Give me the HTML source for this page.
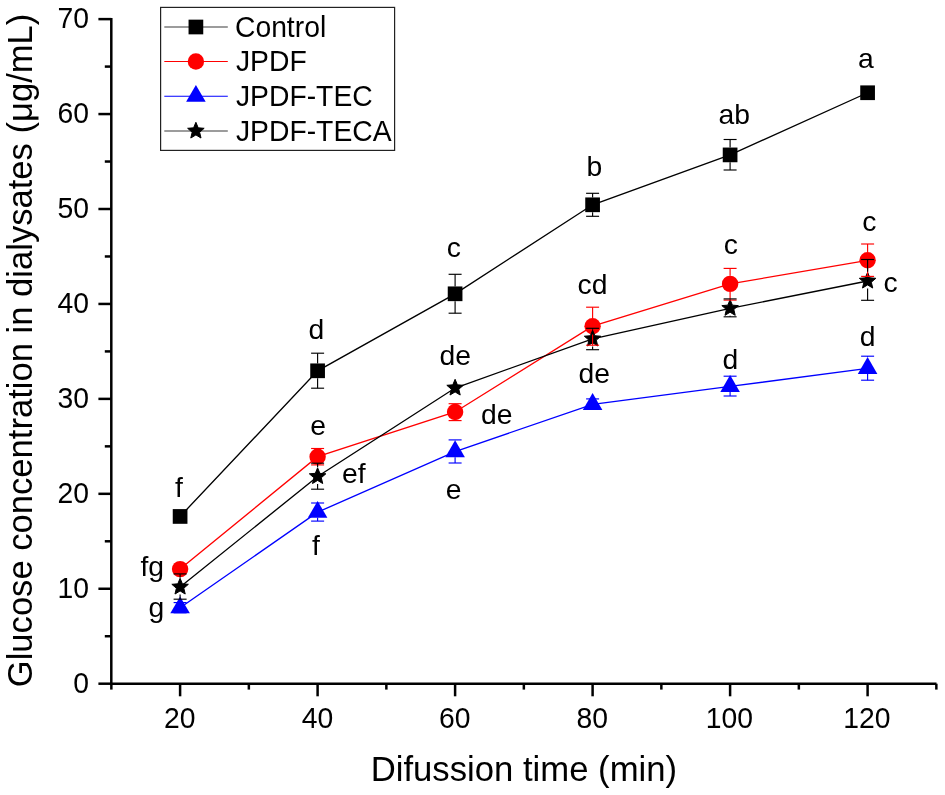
<!DOCTYPE html><html><head><meta charset="utf-8"><title>Glucose diffusion chart</title><style>html,body{margin:0;padding:0;background:#fff;overflow:hidden;}svg{display:block;will-change:transform;}text{font-family:"Liberation Sans",sans-serif;fill:#000;}</style></head><body>
<svg width="945" height="795" viewBox="0 0 945 795">
<rect width="945" height="795" fill="#fff"/>
<g stroke="#000" stroke-width="2.5" fill="none">
<line x1="111.3" y1="17.9" x2="111.3" y2="684.95"/>
<line x1="110.05" y1="683.7" x2="936.5" y2="683.7"/>
<line x1="98.4" y1="683.70" x2="111.3" y2="683.70"/>
<line x1="98.4" y1="588.76" x2="111.3" y2="588.76"/>
<line x1="98.4" y1="493.82" x2="111.3" y2="493.82"/>
<line x1="98.4" y1="398.88" x2="111.3" y2="398.88"/>
<line x1="98.4" y1="303.94" x2="111.3" y2="303.94"/>
<line x1="98.4" y1="209.00" x2="111.3" y2="209.00"/>
<line x1="98.4" y1="114.06" x2="111.3" y2="114.06"/>
<line x1="98.4" y1="19.12" x2="111.3" y2="19.12"/>
<line x1="104.8" y1="636.23" x2="111.3" y2="636.23"/>
<line x1="104.8" y1="541.29" x2="111.3" y2="541.29"/>
<line x1="104.8" y1="446.35" x2="111.3" y2="446.35"/>
<line x1="104.8" y1="351.41" x2="111.3" y2="351.41"/>
<line x1="104.8" y1="256.47" x2="111.3" y2="256.47"/>
<line x1="104.8" y1="161.53" x2="111.3" y2="161.53"/>
<line x1="104.8" y1="66.59" x2="111.3" y2="66.59"/>
<line x1="180.10" y1="683.7" x2="180.10" y2="696.3"/>
<line x1="317.60" y1="683.7" x2="317.60" y2="696.3"/>
<line x1="455.10" y1="683.7" x2="455.10" y2="696.3"/>
<line x1="592.60" y1="683.7" x2="592.60" y2="696.3"/>
<line x1="730.10" y1="683.7" x2="730.10" y2="696.3"/>
<line x1="867.60" y1="683.7" x2="867.60" y2="696.3"/>
<line x1="111.35" y1="683.7" x2="111.35" y2="689.6"/>
<line x1="248.85" y1="683.7" x2="248.85" y2="689.6"/>
<line x1="386.35" y1="683.7" x2="386.35" y2="689.6"/>
<line x1="523.85" y1="683.7" x2="523.85" y2="689.6"/>
<line x1="661.35" y1="683.7" x2="661.35" y2="689.6"/>
<line x1="798.85" y1="683.7" x2="798.85" y2="689.6"/>
<line x1="936.35" y1="683.7" x2="936.35" y2="689.6"/>
</g>
<text transform="translate(73.27,692.60) scale(1,1.04)" font-size="28.3">0</text>
<text transform="translate(57.53,597.66) scale(1,1.04)" font-size="28.3">10</text>
<text transform="translate(57.53,502.72) scale(1,1.04)" font-size="28.3">20</text>
<text transform="translate(57.53,407.78) scale(1,1.04)" font-size="28.3">30</text>
<text transform="translate(57.53,312.84) scale(1,1.04)" font-size="28.3">40</text>
<text transform="translate(57.53,217.90) scale(1,1.04)" font-size="28.3">50</text>
<text transform="translate(57.53,122.96) scale(1,1.04)" font-size="28.3">60</text>
<text transform="translate(57.53,28.02) scale(1,1.04)" font-size="28.3">70</text>
<text transform="translate(163.90,727.90) scale(1,1.04)" font-size="28.3">20</text>
<text transform="translate(301.79,727.90) scale(1,1.04)" font-size="28.3">40</text>
<text transform="translate(438.90,727.90) scale(1,1.04)" font-size="28.3">60</text>
<text transform="translate(576.50,727.90) scale(1,1.04)" font-size="28.3">80</text>
<text transform="translate(705.67,727.90) scale(1,1.04)" font-size="28.3">100</text>
<text transform="translate(843.17,727.90) scale(1,1.04)" font-size="28.3">120</text>
<text transform="translate(370.65,780.80) scale(1,1.02)" font-size="34.7">Difussion time (min)</text>
<text transform="translate(32.4,687.24) rotate(-90) scale(1,1.02)" x="0" y="0" font-size="34.6">Glucose concentration in dialysates (μg/mL)</text>
<polyline points="180.10,516.45 317.60,370.80 455.10,293.80 592.60,204.80 730.10,154.90 867.60,92.75" fill="none" stroke="#000" stroke-width="1.35"/>
<polyline points="180.10,569.10 317.60,456.70 455.10,412.00 592.60,326.20 730.10,283.90 867.60,260.30" fill="none" stroke="#ff0000" stroke-width="1.35"/>
<polyline points="180.10,607.70 317.60,512.20 455.10,451.60 592.60,404.30 730.10,386.40 867.60,368.40" fill="none" stroke="#0000ff" stroke-width="1.35"/>
<polyline points="180.10,587.00 317.60,476.50 455.10,388.00 592.60,338.90 730.10,308.30 867.60,281.00" fill="none" stroke="#000" stroke-width="1.35"/>
<rect x="172.75" y="509.10" width="14.7" height="14.7" fill="#000"/>
<rect x="310.25" y="363.45" width="14.7" height="14.7" fill="#000"/>
<rect x="447.75" y="286.45" width="14.7" height="14.7" fill="#000"/>
<rect x="585.25" y="197.45" width="14.7" height="14.7" fill="#000"/>
<rect x="722.75" y="147.55" width="14.7" height="14.7" fill="#000"/>
<rect x="860.25" y="85.40" width="14.7" height="14.7" fill="#000"/>
<circle cx="180.10" cy="569.10" r="8.2" fill="#ff0000"/>
<circle cx="317.60" cy="456.70" r="8.2" fill="#ff0000"/>
<circle cx="455.10" cy="412.00" r="8.2" fill="#ff0000"/>
<circle cx="592.60" cy="326.20" r="8.2" fill="#ff0000"/>
<circle cx="730.10" cy="283.90" r="8.2" fill="#ff0000"/>
<circle cx="867.60" cy="260.30" r="8.2" fill="#ff0000"/>
<polygon points="180.10,596.40 189.89,613.35 170.31,613.35" fill="#0000ff"/>
<polygon points="317.60,500.90 327.39,517.85 307.81,517.85" fill="#0000ff"/>
<polygon points="455.10,440.30 464.89,457.25 445.31,457.25" fill="#0000ff"/>
<polygon points="592.60,393.00 602.39,409.95 582.81,409.95" fill="#0000ff"/>
<polygon points="730.10,375.10 739.89,392.05 720.31,392.05" fill="#0000ff"/>
<polygon points="867.60,357.10 877.39,374.05 857.81,374.05" fill="#0000ff"/>
<polygon points="180.10,578.30 182.40,583.83 188.37,584.31 183.82,588.21 185.21,594.04 180.10,590.91 174.99,594.04 176.38,588.21 171.83,584.31 177.80,583.83" fill="#000" stroke="#000" stroke-width="1" stroke-linejoin="round"/>
<polygon points="317.60,467.80 319.90,473.33 325.87,473.81 321.32,477.71 322.71,483.54 317.60,480.42 312.49,483.54 313.88,477.71 309.33,473.81 315.30,473.33" fill="#000" stroke="#000" stroke-width="1" stroke-linejoin="round"/>
<polygon points="455.10,379.30 457.40,384.83 463.37,385.31 458.82,389.21 460.21,395.04 455.10,391.92 449.99,395.04 451.38,389.21 446.83,385.31 452.80,384.83" fill="#000" stroke="#000" stroke-width="1" stroke-linejoin="round"/>
<polygon points="592.60,330.20 594.90,335.73 600.87,336.21 596.32,340.11 597.71,345.94 592.60,342.81 587.49,345.94 588.88,340.11 584.33,336.21 590.30,335.73" fill="#000" stroke="#000" stroke-width="1" stroke-linejoin="round"/>
<polygon points="730.10,299.60 732.40,305.13 738.37,305.61 733.82,309.51 735.21,315.34 730.10,312.22 724.99,315.34 726.38,309.51 721.83,305.61 727.80,305.13" fill="#000" stroke="#000" stroke-width="1" stroke-linejoin="round"/>
<polygon points="867.60,272.30 869.90,277.83 875.87,278.31 871.32,282.21 872.71,288.04 867.60,284.92 862.49,288.04 863.88,282.21 859.33,278.31 865.30,277.83" fill="#000" stroke="#000" stroke-width="1" stroke-linejoin="round"/>
<g stroke="#000" stroke-width="1.15"><line x1="317.60" y1="353.20" x2="317.60" y2="363.45"/><line x1="317.60" y1="378.15" x2="317.60" y2="388.20"/><line x1="311.10" y1="353.20" x2="324.10" y2="353.20"/><line x1="311.10" y1="388.20" x2="324.10" y2="388.20"/></g>
<g stroke="#000" stroke-width="1.15"><line x1="455.10" y1="274.30" x2="455.10" y2="286.45"/><line x1="455.10" y1="301.15" x2="455.10" y2="313.20"/><line x1="448.60" y1="274.30" x2="461.60" y2="274.30"/><line x1="448.60" y1="313.20" x2="461.60" y2="313.20"/></g>
<g stroke="#000" stroke-width="1.15"><line x1="592.60" y1="193.30" x2="592.60" y2="197.45"/><line x1="592.60" y1="212.15" x2="592.60" y2="216.30"/><line x1="586.10" y1="193.30" x2="599.10" y2="193.30"/><line x1="586.10" y1="216.30" x2="599.10" y2="216.30"/></g>
<g stroke="#000" stroke-width="1.15"><line x1="730.10" y1="139.50" x2="730.10" y2="147.55"/><line x1="730.10" y1="162.25" x2="730.10" y2="170.00"/><line x1="723.60" y1="139.50" x2="736.60" y2="139.50"/><line x1="723.60" y1="170.00" x2="736.60" y2="170.00"/></g>
<g stroke="#ff0000" stroke-width="1.15"><line x1="311.10" y1="448.50" x2="324.10" y2="448.50"/><line x1="311.10" y1="464.90" x2="324.10" y2="464.90"/></g>
<g stroke="#ff0000" stroke-width="1.15"><line x1="455.10" y1="403.70" x2="455.10" y2="403.80"/><line x1="455.10" y1="420.20" x2="455.10" y2="420.60"/><line x1="448.60" y1="403.70" x2="461.60" y2="403.70"/><line x1="448.60" y1="420.60" x2="461.60" y2="420.60"/></g>
<g stroke="#ff0000" stroke-width="1.15"><line x1="592.60" y1="307.20" x2="592.60" y2="318.00"/><line x1="592.60" y1="334.40" x2="592.60" y2="345.20"/><line x1="586.10" y1="307.20" x2="599.10" y2="307.20"/><line x1="586.10" y1="345.20" x2="599.10" y2="345.20"/></g>
<g stroke="#ff0000" stroke-width="1.15"><line x1="730.10" y1="268.40" x2="730.10" y2="275.70"/><line x1="730.10" y1="292.10" x2="730.10" y2="300.10"/><line x1="723.60" y1="268.40" x2="736.60" y2="268.40"/><line x1="723.60" y1="300.10" x2="736.60" y2="300.10"/></g>
<g stroke="#ff0000" stroke-width="1.15"><line x1="867.60" y1="244.00" x2="867.60" y2="252.10"/><line x1="867.60" y1="268.50" x2="867.60" y2="276.40"/><line x1="861.10" y1="244.00" x2="874.10" y2="244.00"/><line x1="861.10" y1="276.40" x2="874.10" y2="276.40"/></g>
<g stroke="#0000ff" stroke-width="1.15"><line x1="173.60" y1="602.60" x2="186.60" y2="602.60"/><line x1="173.60" y1="612.80" x2="186.60" y2="612.80"/></g>
<g stroke="#0000ff" stroke-width="1.15"><line x1="317.60" y1="517.85" x2="317.60" y2="521.10"/><line x1="311.10" y1="503.00" x2="324.10" y2="503.00"/><line x1="311.10" y1="521.10" x2="324.10" y2="521.10"/></g>
<g stroke="#0000ff" stroke-width="1.15"><line x1="455.10" y1="439.90" x2="455.10" y2="440.30"/><line x1="455.10" y1="457.25" x2="455.10" y2="463.00"/><line x1="448.60" y1="439.90" x2="461.60" y2="439.90"/><line x1="448.60" y1="463.00" x2="461.60" y2="463.00"/></g>
<g stroke="#0000ff" stroke-width="1.15"><line x1="586.10" y1="398.90" x2="599.10" y2="398.90"/><line x1="586.10" y1="409.00" x2="599.10" y2="409.00"/></g>
<g stroke="#0000ff" stroke-width="1.15"><line x1="730.10" y1="392.05" x2="730.10" y2="396.00"/><line x1="723.60" y1="376.20" x2="736.60" y2="376.20"/><line x1="723.60" y1="396.00" x2="736.60" y2="396.00"/></g>
<g stroke="#0000ff" stroke-width="1.15"><line x1="867.60" y1="356.20" x2="867.60" y2="357.10"/><line x1="867.60" y1="374.05" x2="867.60" y2="380.20"/><line x1="861.10" y1="356.20" x2="874.10" y2="356.20"/><line x1="861.10" y1="380.20" x2="874.10" y2="380.20"/></g>
<g stroke="#000" stroke-width="1.15"><line x1="180.10" y1="573.90" x2="180.10" y2="577.80"/><line x1="180.10" y1="594.54" x2="180.10" y2="599.20"/><line x1="173.60" y1="573.90" x2="186.60" y2="573.90"/><line x1="173.60" y1="599.20" x2="186.60" y2="599.20"/></g>
<g stroke="#000" stroke-width="1.15"><line x1="317.60" y1="463.20" x2="317.60" y2="467.30"/><line x1="317.60" y1="484.04" x2="317.60" y2="489.20"/><line x1="311.10" y1="463.20" x2="324.10" y2="463.20"/><line x1="311.10" y1="489.20" x2="324.10" y2="489.20"/></g>
<g stroke="#000" stroke-width="1.15"><line x1="592.60" y1="328.30" x2="592.60" y2="329.70"/><line x1="592.60" y1="346.44" x2="592.60" y2="349.70"/><line x1="586.10" y1="328.30" x2="599.10" y2="328.30"/><line x1="586.10" y1="349.70" x2="599.10" y2="349.70"/></g>
<g stroke="#000" stroke-width="1.15"><line x1="730.10" y1="298.90" x2="730.10" y2="299.10"/><line x1="730.10" y1="315.84" x2="730.10" y2="316.80"/><line x1="723.60" y1="298.90" x2="736.60" y2="298.90"/><line x1="723.60" y1="316.80" x2="736.60" y2="316.80"/></g>
<g stroke="#000" stroke-width="1.15"><line x1="867.60" y1="259.50" x2="867.60" y2="271.80"/><line x1="867.60" y1="288.54" x2="867.60" y2="300.30"/><line x1="861.10" y1="259.50" x2="874.10" y2="259.50"/><line x1="861.10" y1="300.30" x2="874.10" y2="300.30"/></g>
<text transform="translate(175.00,496.70) scale(1,1.0)" font-size="28.3">f</text>
<text transform="translate(140.50,576.00) scale(1,1.0)" font-size="28.3">fg</text>
<text transform="translate(148.61,617.30) scale(1,1.0)" font-size="28.3">g</text>
<text transform="translate(308.41,338.60) scale(1,1.0)" font-size="28.3">d</text>
<text transform="translate(310.20,435.20) scale(1,1.0)" font-size="28.3">e</text>
<text transform="translate(341.90,482.50) scale(1,1.0)" font-size="28.3">ef</text>
<text transform="translate(312.00,554.80) scale(1,1.0)" font-size="28.3">f</text>
<text transform="translate(446.70,257.40) scale(1,1.0)" font-size="28.3">c</text>
<text transform="translate(439.51,364.50) scale(1,1.0)" font-size="28.3">de</text>
<text transform="translate(481.01,423.60) scale(1,1.0)" font-size="28.3">de</text>
<text transform="translate(445.80,498.60) scale(1,1.0)" font-size="28.3">e</text>
<text transform="translate(586.38,175.60) scale(1,1.0)" font-size="28.3">b</text>
<text transform="translate(577.50,294.00) scale(1,1.0)" font-size="28.3">cd</text>
<text transform="translate(578.61,383.00) scale(1,1.0)" font-size="28.3">de</text>
<text transform="translate(718.60,124.00) scale(1,1.0)" font-size="28.3">ab</text>
<text transform="translate(723.70,253.60) scale(1,1.0)" font-size="28.3">c</text>
<text transform="translate(722.61,369.10) scale(1,1.0)" font-size="28.3">d</text>
<text transform="translate(858.00,68.30) scale(1,1.0)" font-size="28.3">a</text>
<text transform="translate(862.20,230.80) scale(1,1.0)" font-size="28.3">c</text>
<text transform="translate(883.60,291.70) scale(1,1.0)" font-size="28.3">c</text>
<text transform="translate(859.81,346.20) scale(1,1.0)" font-size="28.3">d</text>
<rect x="160.6" y="7.4" width="234" height="143" fill="#fff" stroke="#222" stroke-width="1.2"/>
<line x1="164.3" y1="27.0" x2="227.8" y2="27.0" stroke="#3a3a3a" stroke-width="1.1"/>
<rect x="188.55" y="19.65" width="14.7" height="14.7" fill="#000"/>
<text transform="translate(234.96,36.80) scale(1,1.02)" font-size="28.3">Control</text>
<line x1="164.3" y1="61.5" x2="227.8" y2="61.5" stroke="#ff0000" stroke-width="1.1"/>
<circle cx="195.90" cy="61.50" r="8.2" fill="#ff0000"/>
<text transform="translate(235.96,71.30) scale(1,1.04)" font-size="28.3">JPDF</text>
<line x1="164.3" y1="96.2" x2="227.8" y2="96.2" stroke="#0000ff" stroke-width="1.1"/>
<polygon points="195.90,84.90 205.69,101.85 186.11,101.85" fill="#0000ff"/>
<text transform="translate(235.96,106.00) scale(1,1.04)" font-size="28.3">JPDF-TEC</text>
<line x1="164.3" y1="131.0" x2="227.8" y2="131.0" stroke="#3a3a3a" stroke-width="1.1"/>
<polygon points="195.90,122.30 198.20,127.83 204.17,128.31 199.62,132.21 201.01,138.04 195.90,134.91 190.79,138.04 192.18,132.21 187.63,128.31 193.60,127.83" fill="#000" stroke="#000" stroke-width="1" stroke-linejoin="round"/>
<text transform="translate(235.96,140.80) scale(1,1.04)" font-size="28.3">JPDF-TECA</text>
</svg></body></html>
